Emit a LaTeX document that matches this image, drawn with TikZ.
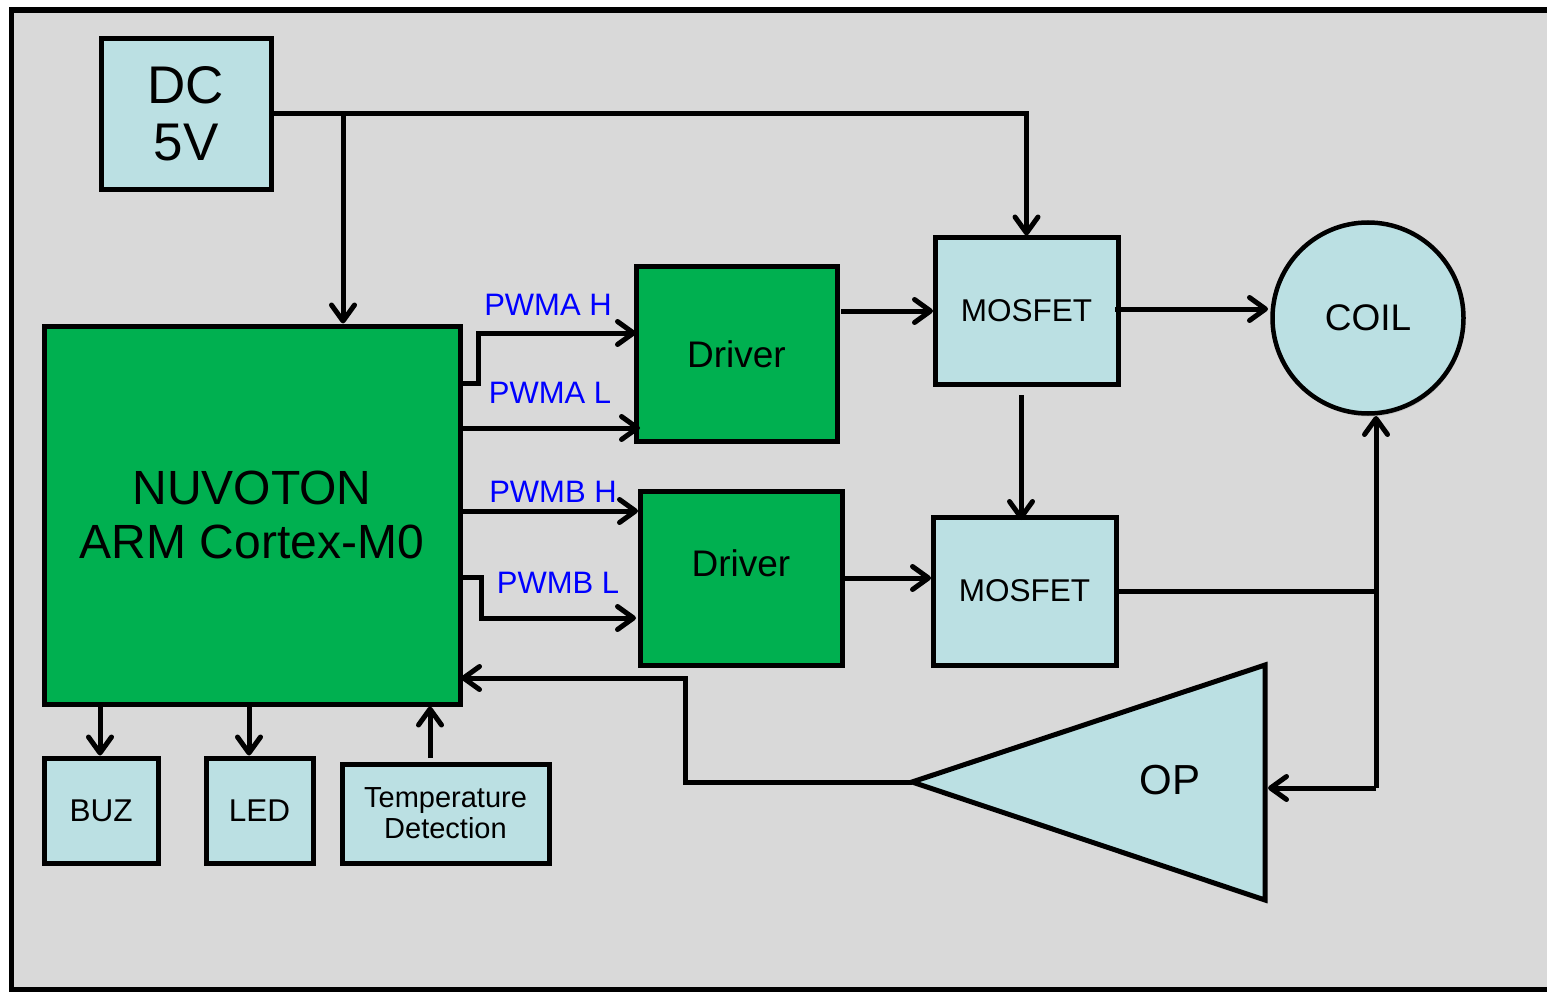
\documentclass[tikz,border=0pt]{standalone}
\usepackage{fontspec}
\setmainfont{Liberation Sans}
\usetikzlibrary{arrows.meta,shapes.geometric,shadows}
\definecolor{bg}{HTML}{D9D9D9}
\definecolor{lb}{HTML}{BBE0E3}
\definecolor{gr}{HTML}{00B050}
\definecolor{pw}{HTML}{0000FF}
\newcommand{\fs}[2]{\fontsize{#1}{#2}\selectfont}
\begin{document}
\begin{tikzpicture}[x=1pt,y=-1pt,
  box/.style={draw=black, line width=5pt, inner sep=0pt, align=center},
  lbox/.style={box, fill=lb},
  gbox/.style={box, fill=gr},
  conn/.style={line width=5pt},
  arr/.style={conn, -{Straight Barb[length=16pt,width=23pt,round]}},
  lab/.style={text=pw, font=\fs{31}{31}, inner sep=0pt}
]
\useasboundingbox (0,0) rectangle (1547,992);
\draw[line width=5.5pt, fill=bg] (11.5,10) rectangle (1620,990);

% blocks
\node[lbox, minimum width=170, minimum height=151, font=\fs{53}{57}] (dc) at (186,114) {DC\\5V};
\node[gbox, minimum width=416, minimum height=378, font=\fs{48}{54}] (nuv) at (252,515) {NUVOTON\\ARM Cortex-M0};
\node[gbox, minimum width=201, minimum height=174, font=\fs{37}{37}] (drv1) at (736.5,354) {Driver};
\node[gbox, minimum width=202, minimum height=174] (drv2) at (741,578) {};
\node[font=\fs{37}{37}, inner sep=0pt] (drv2t) at (741,563) {Driver};
\node[lbox, minimum width=183, minimum height=146, font=\fs{31.5}{31.5}] (mos1) at (1026.5,311) {MOSFET};
\node[lbox, minimum width=183, minimum height=148, font=\fs{31.5}{31.5}] (mos2) at (1024.5,591) {MOSFET};
\node[lbox, circle, line width=4.5pt, minimum size=191, font=\fs{37}{37},
      drop shadow={opacity=0.25, shadow xshift=1pt, shadow yshift=-3pt}] (coil) at (1368,318) {COIL};
\node[lbox, minimum width=114, minimum height=105, font=\fs{31.5}{31.5}] (buz) at (101,810.5) {BUZ};
\node[lbox, minimum width=107, minimum height=105, font=\fs{31.5}{31.5}] (led) at (259.5,810.5) {LED};
\node[lbox, minimum width=207, minimum height=99, font=\fs{29}{31}] (temp) at (445.5,813.5) {Temperature\\Detection};

% OP amplifier
\coordinate (optip) at (912,782);
\draw[line width=5pt, fill=lb, line join=miter] (optip) -- (1265,665) -- (1265,900) -- cycle;
\node[font=\fs{42}{42}, inner sep=0pt] (op) at (1170,780) {OP};

% labels
\node[lab] (lah) at (548,305) {PWMA H};
\node[lab] (lal) at (550,393) {PWMA L};
\node[lab] (lbh) at (553,492) {PWMB H};
\node[lab] (lbl) at (558,583) {PWMB L};

% coordinates for connectors
\coordinate (j1) at (343,114);
\coordinate (ah0) at (463,383);
\coordinate (ah1) at (478,383);
\coordinate (ah2) at (636,333);
\coordinate (al0) at (461,428);
\coordinate (al1) at (640,428);
\coordinate (bh0) at (461,511);
\coordinate (bh1) at (638,511);
\coordinate (bl0) at (461,577);
\coordinate (bl1) at (481,577);
\coordinate (bl2) at (636,618);
\coordinate (d1o) at (841,311);
\coordinate (m1i) at (933,311);
\coordinate (m1o) at (1115,309);
\coordinate (ci) at (1268,309);
\coordinate (m1b) at (1021,395);
\coordinate (m2t) at (1021,520);
\coordinate (d2o) at (842,578);
\coordinate (m2i) at (931,578);
\coordinate (jb) at (1376,788);
\coordinate (cb) at (1376,416);
\coordinate (opin) at (1268,788);
\coordinate (fb1) at (685,782);
\coordinate (fb2) at (461,678);
\coordinate (bz0) at (100,704);
\coordinate (ld0) at (249,704);
\coordinate (tp0) at (430,758);

% connectors
\draw[arr] (dc.east) -| (mos1.north);
\draw[arr] (j1) -- (j1 |- nuv.north);
\draw[arr] (ah0) -- (ah1) |- (ah2);
\draw[arr] (al0) -- (al1);
\draw[arr] (bh0) -- (bh1);
\draw[arr] (bl0) -- (bl1) |- (bl2);
\draw[arr] (d1o) -- (m1i);
\draw[arr] (m1o) -- (ci);
\draw[arr] (m1b) -- (m2t);
\draw[arr] (d2o) -- (m2i);
\draw[conn] (mos2.east) -- (mos2.east -| jb);
\draw[arr] (jb) -- (cb);
\draw[arr] (jb) -- (opin);
\draw[arr] (optip) -- (fb1) |- (fb2);
\draw[arr] (bz0) -- (bz0 |- buz.north);
\draw[arr] (ld0) -- (ld0 |- led.north);
\draw[arr] (tp0) -- (tp0 |- nuv.south);
\end{tikzpicture}
\end{document}
